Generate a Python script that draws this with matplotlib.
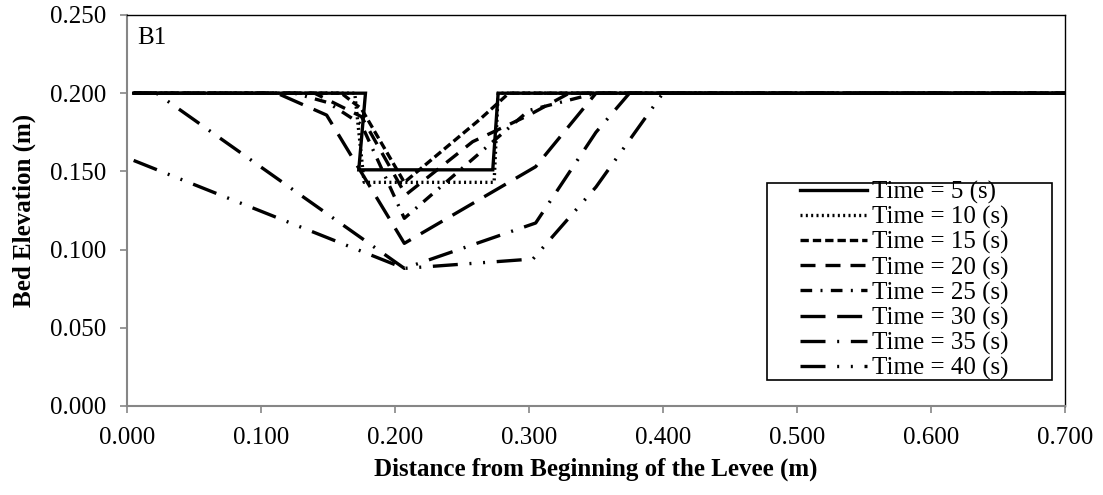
import matplotlib
matplotlib.use('Agg')
import matplotlib.pyplot as plt
from matplotlib.patches import Rectangle
from matplotlib.ticker import FormatStrFormatter

plt.rcParams['font.family'] = ['Liberation Serif', 'DejaVu Serif']
plt.rcParams['font.size'] = 18

# bed profiles along the levee, one per output time
x_5 = [0.005, 0.178, 0.173, 0.273, 0.277, 0.700]
y_5 = [0.200, 0.200, 0.151, 0.151, 0.200, 0.200]

x_10 = [0.005, 0.170, 0.177, 0.274, 0.277, 0.700]
y_10 = [0.200, 0.200, 0.143, 0.143, 0.200, 0.200]

x_15 = [0.005, 0.160, 0.175, 0.207, 0.263, 0.285, 0.700]
y_15 = [0.200, 0.200, 0.190, 0.143, 0.183, 0.200, 0.200]

x_20 = [0.005, 0.140, 0.175, 0.208, 0.258, 0.300, 0.330, 0.700]
y_20 = [0.200, 0.200, 0.185, 0.135, 0.169, 0.186, 0.200, 0.200]

x_25 = [0.005, 0.125, 0.150, 0.175, 0.207, 0.300, 0.350, 0.700]
y_25 = [0.200, 0.200, 0.194, 0.180, 0.120, 0.189, 0.200, 0.200]

x_30 = [0.005, 0.112, 0.149, 0.207, 0.305, 0.350, 0.700]
y_30 = [0.200, 0.200, 0.186, 0.104, 0.153, 0.200, 0.200]

x_35 = [0.005, 0.022, 0.207, 0.305, 0.350, 0.375, 0.700]
y_35 = [0.200, 0.200, 0.088, 0.117, 0.175, 0.200, 0.200]

x_40 = [0.005, 0.207, 0.303, 0.350, 0.400, 0.700]
y_40 = [0.157, 0.088, 0.094, 0.140, 0.200, 0.200]

series = [
    (x_5, y_5, 'Time = 5 (s)', '-'),
    (x_10, y_10, 'Time = 10 (s)', (0, (0.6, 1.0))),
    (x_15, y_15, 'Time = 15 (s)', (0, (2.5, 1.2))),
    (x_20, y_20, 'Time = 20 (s)', (0, (4.5, 3.0))),
    (x_25, y_25, 'Time = 25 (s)', (0, (3.5, 2.5, 0.6, 2.5))),
    (x_30, y_30, 'Time = 30 (s)', (0, (7.5, 3.5))),
    (x_35, y_35, 'Time = 35 (s)', (0, (7.5, 3.5, 0.6, 3.5))),
    (x_40, y_40, 'Time = 40 (s)', (0, (7.5, 3.5, 0.6, 3.5, 0.6, 3.5))),
]

fig = plt.figure(figsize=(11.03, 4.95), dpi=100)
ax = fig.add_axes([0.1151, 0.1798, 0.8504, 0.7899])

for xs, ys, lab, ls in series:
    ax.plot(xs, ys, color='black', lw=2.4, linestyle=ls, label=lab,
            dash_capstyle='butt', solid_joinstyle='miter')

ax.set_xlim(0, 0.7)
ax.set_ylim(0, 0.25)
ax.set_xticks([0.0, 0.1, 0.2, 0.3, 0.4, 0.5, 0.6, 0.7])
ax.set_yticks([0.0, 0.05, 0.10, 0.15, 0.20, 0.25])
ax.xaxis.set_major_formatter(FormatStrFormatter('%.3f'))
ax.yaxis.set_major_formatter(FormatStrFormatter('%.3f'))

axis_grey = '#868686'
for side in ['left', 'bottom']:
    ax.spines[side].set_color(axis_grey)
    ax.spines[side].set_linewidth(1.5)
for side in ['top', 'right']:
    ax.spines[side].set_color('black')
    ax.spines[side].set_linewidth(1.0)
ax.tick_params(axis='both', direction='out', length=5, width=1.2,
               color=axis_grey, pad=10, labelsize=18)
ax.tick_params(top=False, right=False)

ax.set_xlabel('Distance from Beginning of the Levee (m)', fontweight='bold', labelpad=6)
ax.set_ylabel('Bed Elevation (m)', fontweight='bold', labelpad=10)
ax.text(0.011, 0.97, 'B1', transform=ax.transAxes, ha='left', va='top', fontsize=18)

# legend entries without their own frame; the box is drawn separately so it
# can have wide side margins and tight top/bottom margins
leg = ax.legend(loc='upper left', bbox_to_anchor=(0.7175, 0.575), borderaxespad=0,
                fontsize=18, handlelength=2.7, handletextpad=0.18, labelspacing=0.08,
                borderpad=0, frameon=False)
box = Rectangle((0.682, 0.0665), 0.304, 0.5035, transform=ax.transAxes,
                facecolor='white', edgecolor='black', linewidth=1.2, zorder=4)
ax.add_patch(box)
leg.set_zorder(5)

fig.savefig('out.png', dpi=100)
